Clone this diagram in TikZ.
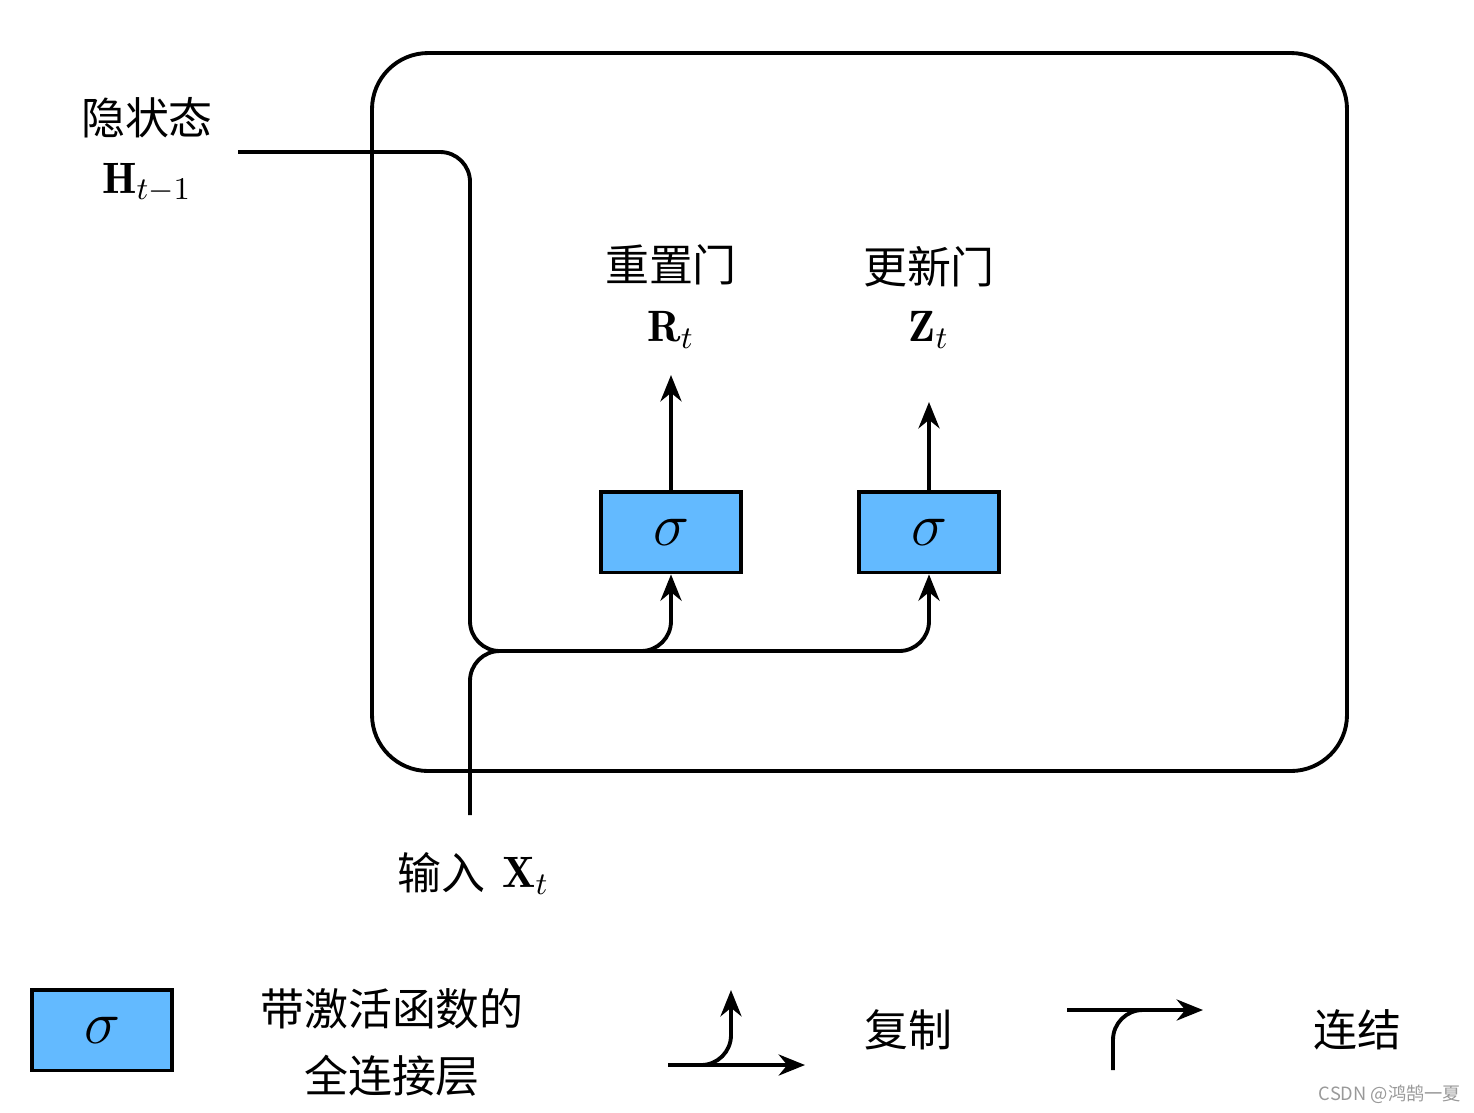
\documentclass[tikz,border=0pt]{standalone}
\usepackage{amsmath, xcolor}
\usepackage{fontspec}
\newfontfamily\cjk{Noto Sans CJK SC}
\usetikzlibrary{arrows.meta, calc}
\definecolor{gateblue}{RGB}{99,186,255}

\begin{document}
\begin{tikzpicture}[x=0.1mm, y=-0.1mm,
    wire/.style={line width=1.1pt, rounded corners=8.5pt},
    arr/.style={-{Stealth[length=7.5pt,width=6pt]}},
    gate/.style={draw, line width=1.1pt, fill=gateblue, minimum width=40pt,
        minimum height=23pt, inner sep=0pt, font=\fontsize{16}{18}\selectfont},
    zh/.style={font=\cjk\fontsize{12.5}{15}\selectfont},
    sym/.style={font=\fontsize{12.5}{15}\selectfont}]
    \useasboundingbox (0,0) rectangle (1474,1112);
    % cell
    \draw [line width=1.1pt, rounded corners=16pt] (372,53) rectangle (1347,771);
    \node [gate] (rgate) at (671,532) {$\sigma$};
    \node [gate] (zgate) at (929,532) {$\sigma$};
    \coordinate (rout) at (671,375);
    \coordinate (zout) at (929,402);
    \draw [wire,arr] (rgate.north) -- (rout);
    \draw [wire,arr] (zgate.north) -- (zout);
    \node [zh] (rname) at (671,265) {重置门};
    \node [sym] (rsym) at (671,330) {$\mathbf{R}_t$};
    \node [zh] (zname) at (929,267) {更新门};
    \node [sym] (zsym) at (929,330) {$\mathbf{Z}_t$};
    % inputs
    \node [zh] (hname) at (147,118) {隐状态};
    \node [sym] (hsym) at (147,183) {$\mathbf{H}_{t-1}$};
    \node [zh, anchor=east] (xname) at (498,873) {输入};
    \node [sym, anchor=west] (xsym) at (490,876) {$\mathbf{X}_t$};
    \coordinate (hin) at (238,152);
    \coordinate (xin) at (470,815);
    \coordinate (merge) at (505,651);
    \draw [wire] (hin) -| (470,651) -- (merge);
    \draw [wire] (xin) |- (merge);
    \draw [wire,arr] (merge) -| (rgate.south);
    \draw [wire,arr] (merge) -| (zgate.south);
    % legend
    \node [gate] (fc) at (102,1030) {$\sigma$};
    \node [zh, align=center] (fcname) at (392,1042) {带激活函数的\\[4pt]全连接层};
    \coordinate (c1) at (668,1065);
    \coordinate (c2) at (805,1065);
    \coordinate (c3) at (731,990);
    \draw [wire,arr] (c1) -- (c2);
    \draw [wire,arr] (700,1065) -| (c3);
    \node [zh] (copyname) at (908,1030) {复制};
    \coordinate (k1) at (1067,1010);
    \coordinate (k2) at (1203,1010);
    \coordinate (k3) at (1113,1070);
    \draw [wire,arr] (k1) -- (k2);
    \draw [wire] (k3) |- (1150,1010);
    \node [zh] (catname) at (1357,1030) {连结};
    \node [font=\cjk\fontsize{5.2}{6}\selectfont, text=gray!80] (mark) at (1390,1094) {CSDN @鸿鹄一夏};
\end{tikzpicture}
\end{document}
